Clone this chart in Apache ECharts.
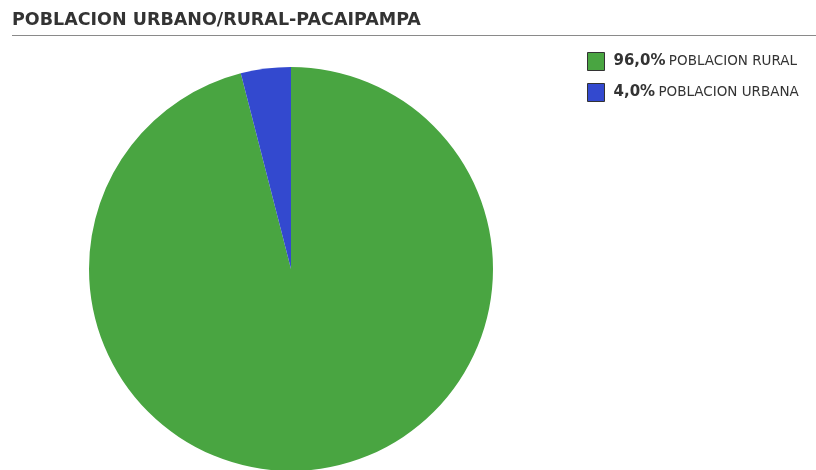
<!DOCTYPE html>
<html>
<head>
<meta charset="utf-8">
<script src="https://cdn.jsdelivr.net/npm/echarts@6/dist/echarts.min.js"></script>
<style>
  html, body { margin: 0; padding: 0; background: #fff; }
  #chart { width: 816px; height: 470px; }
</style>
</head>
<body>
<div id="chart"></div>
<script>
// datos
var categorias = ['POBLACION RURAL', 'POBLACION URBANA'];
var porcentajes = [96.0, 4.0];
var colores = ['#49A541', '#3349CF'];

var chart = echarts.init(document.getElementById('chart'));

var datos = categorias.map(function (c, i) {
  return { name: c, value: porcentajes[i], itemStyle: { color: colores[i] } };
});

chart.setOption({
  backgroundColor: '#fff',
  animation: false,
  title: {
    text: 'POBLACION URBANO/RURAL-PACAIPAMPA',
    left: 12,
    top: 11,
    padding: 0,
    textStyle: {
      fontFamily: 'DejaVu Sans',
      fontWeight: 'bold',
      fontSize: 17.5,
      color: '#333'
    }
  },
  graphic: [
    {
      type: 'line',
      shape: { x1: 12, y1: 35.5, x2: 816, y2: 35.5 },
      style: { stroke: '#8a8a8a', lineWidth: 1 }
    }
  ],
  legend: {
    orient: 'vertical',
    left: 587,
    top: 52,
    padding: 0,
    itemWidth: 17,
    itemHeight: 18,
    itemGap: 12,
    icon: 'rect',
    itemStyle: { borderColor: '#333', borderWidth: 1 },
    formatter: function (name) {
      var i = categorias.indexOf(name);
      return '{b|' + porcentajes[i].toFixed(1).replace('.', ',') + '%} {n|' + name + '}';
    },
    textStyle: {
      rich: {
        b: { fontFamily: 'DejaVu Sans', fontWeight: 'bold', fontSize: 15, color: '#333', padding: [0, 0, 0, 4] },
        n: { fontFamily: 'DejaVu Sans', fontSize: 13.5, color: '#333' }
      }
    }
  },
  series: [
    {
      type: 'pie',
      center: [291, 269],
      radius: 202,
      startAngle: 90,
      clockwise: true,
      label: { show: false },
      labelLine: { show: false },
      emphasis: { disabled: true },
      data: datos
    }
  ]
});
</script>
</body>
</html>
